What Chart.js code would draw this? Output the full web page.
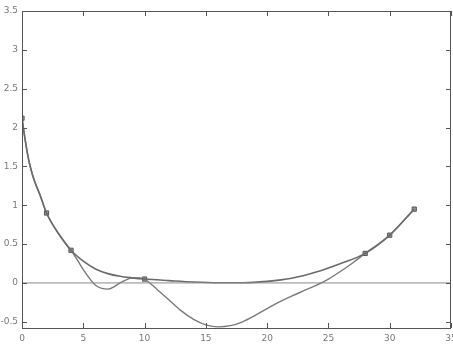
<!DOCTYPE html>
<html>
<head>
<meta charset="utf-8">
<script src="https://cdn.jsdelivr.net/npm/chart.js@4/dist/chart.umd.min.js"></script>
<style>
  html, body { margin: 0; padding: 0; background: #fff; overflow: hidden; }
  #wrap { width: 453px; height: 350px; overflow: hidden; }
</style>
</head>
<body>
<div id="wrap"><canvas id="grafica" width="456" height="350"></canvas></div>
<script>
// ---------- DATOS ----------
// curva suave (pasa por los nodos)
const suaveX = [0, 0.25, 0.5, 0.75, 1, 1.5, 2, 3, 4, 5, 6, 7, 8, 9, 10, 12, 14, 16, 18, 20, 22, 24, 26, 28, 30, 32];
const suaveY = [2.12, 1.85, 1.62, 1.45, 1.32, 1.12, 0.90, 0.63, 0.42, 0.28, 0.18, 0.12, 0.085, 0.065, 0.05, 0.03, 0.012, 0.003, 0.003, 0.02, 0.06, 0.14, 0.25, 0.38, 0.615, 0.95];

// curva oscilante (interpolación)
const oscX = [0, 0.25, 0.5, 0.75, 1, 1.5, 2, 3, 4, 4.5, 5, 5.5, 6, 6.5, 7, 7.5, 8, 8.5, 9, 9.5, 10, 10.5, 11, 12, 13, 14, 15, 16, 17, 18, 19, 20, 21, 22, 23, 24, 25, 26, 27, 28, 30, 32];
const oscY = [2.12, 1.85, 1.62, 1.45, 1.32, 1.12, 0.90, 0.63, 0.42, 0.30, 0.17, 0.06, -0.03, -0.07, -0.08, -0.05, 0.0, 0.04, 0.065, 0.065, 0.05, -0.01, -0.08, -0.22, -0.36, -0.47, -0.54, -0.565, -0.55, -0.50, -0.42, -0.33, -0.245, -0.17, -0.10, -0.03, 0.05, 0.15, 0.26, 0.38, 0.615, 0.95];

// nodos (marcadores cuadrados)
const nodosX = [0, 2, 4, 10, 28, 30, 32];
const nodosY = [2.12, 0.90, 0.42, 0.05, 0.38, 0.615, 0.95];

// línea de referencia y = 0
const ceroX = [0, 35];
const ceroY = [0, 0];

// ticks
const ticksX = [0, 5, 10, 15, 20, 25, 30, 35];
const ticksY = [-0.5, 0, 0.5, 1, 1.5, 2, 2.5, 3, 3.5];

const pares = (xs, ys) => xs.map((x, i) => ({ x, y: ys[i] }));

// ---------- MARCO Y TICKS HACIA DENTRO ----------
const marco = {
  id: "marco",
  afterDraw(chart) {
    const { ctx, chartArea: a, scales } = chart;
    ctx.save();
    ctx.strokeStyle = "#555";
    ctx.lineWidth = 1;
    ctx.strokeRect(a.left + 0.5, a.top + 0.5, a.right - a.left - 1, a.bottom - a.top);
    ctx.beginPath();
    ticksX.forEach(v => {
      const px = Math.round(scales.x.getPixelForValue(v)) + 0.5;
      ctx.moveTo(px, a.bottom); ctx.lineTo(px, a.bottom - 5);
      ctx.moveTo(px, a.top); ctx.lineTo(px, a.top + 5);
    });
    ticksY.forEach(v => {
      const py = Math.round(scales.y.getPixelForValue(v)) + 0.5;
      ctx.moveTo(a.left, py); ctx.lineTo(a.left + 5, py);
      ctx.moveTo(a.right, py); ctx.lineTo(a.right - 5, py);
    });
    ctx.stroke();
    ctx.restore();
  }
};

new Chart(document.getElementById("grafica"), {
  type: "line",
  data: {
    datasets: [
      {
        label: "y = 0",
        data: pares(ceroX, ceroY),
        borderColor: "#8a8a8a",
        borderWidth: 1,
        pointRadius: 0,
        tension: 0
      },
      {
        label: "suave",
        data: pares(suaveX, suaveY),
        borderColor: "#6b6b6b",
        borderWidth: 1.6,
        pointRadius: 0,
        cubicInterpolationMode: "monotone"
      },
      {
        label: "oscilante",
        data: pares(oscX, oscY),
        borderColor: "#7a7a7a",
        borderWidth: 1.4,
        pointRadius: 0,
        cubicInterpolationMode: "monotone"
      },
      {
        label: "nodos",
        data: pares(nodosX, nodosY),
        showLine: false,
        pointStyle: "rect",
        pointRadius: 3,
        pointBackgroundColor: "#9a9a9a",
        pointBorderColor: "#555",
        pointBorderWidth: 1
      }
    ]
  },
  options: {
    responsive: false,
    animation: false,
    layout: { padding: { top: 11, right: 0, left: 0, bottom: 0 } },
    plugins: { legend: { display: false }, tooltip: { enabled: false } },
    scales: {
      x: {
        type: "linear",
        min: 0, max: 35,
        grid: { display: false, drawTicks: false },
        border: { display: false },
        ticks: { stepSize: 5, padding: 5, color: "#777", font: { family: "DejaVu Sans", size: 9 }, maxRotation: 0 },
        afterFit(s) { s.height = 22; s.paddingLeft = 0; s.paddingRight = 0; }
      },
      y: {
        type: "linear",
        min: -0.58, max: 3.5,
        grid: { display: false, drawTicks: false },
        border: { display: false },
        ticks: {
          stepSize: 0.5, includeBounds: false, padding: 4, color: "#777",
          font: { family: "DejaVu Sans", size: 9 },
          callback: v => String(Math.round(v * 10) / 10)
        },
        afterFit(s) { s.width = 22; s.paddingTop = 0; s.paddingBottom = 0; }
      }
    }
  },
  plugins: [marco]
});
</script>
</body>
</html>
